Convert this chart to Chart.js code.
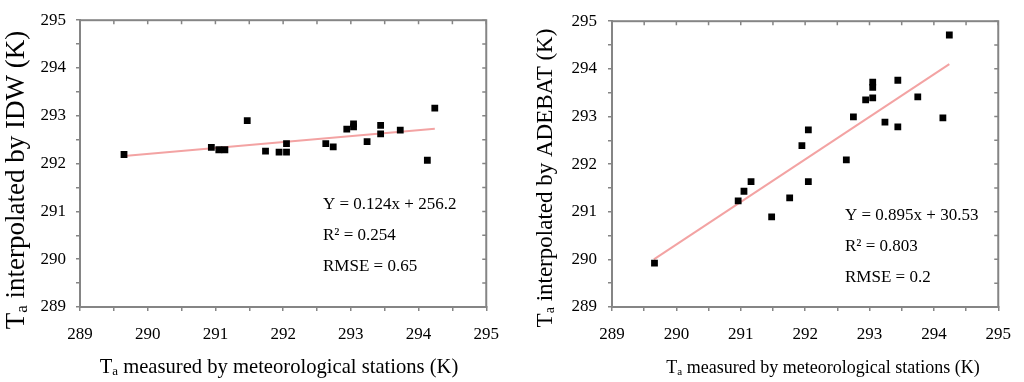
<!DOCTYPE html>
<html>
<head>
<meta charset="utf-8">
<script src="https://cdn.jsdelivr.net/npm/chart.js@4.4.1/dist/chart.umd.min.js"></script>
<style>
  html, body { margin: 0; padding: 0; background: #fff; }
  #wrap { position: relative; width: 1024px; height: 382px; }
  .box { position: absolute; top: 0; width: 512px; height: 382px; }
</style>
</head>
<body>
<div id="wrap">
  <div class="box" style="left:0"><canvas id="idw"></canvas></div>
  <div class="box" style="left:512px"><canvas id="adebat"></canvas></div>
</div>
<script>
// axis range, shared by both panels
const axisMin = 289;
const axisMax = 295;

// IDW panel
const idwMeasured = [289.65, 290.94, 291.05, 291.14, 291.47, 291.74, 291.94, 292.05, 292.05, 292.63,
  292.74, 292.94, 293.04, 293.04, 293.24, 293.44, 293.44, 293.73, 294.13, 294.24];
const idwInterp = [292.19, 292.34, 292.29, 292.29, 292.90, 292.26, 292.24, 292.24, 292.42, 292.42,
  292.35, 292.72, 292.83, 292.77, 292.46, 292.80, 292.62, 292.70, 292.07, 293.16];
const idwFitX = [289.65, 294.24];
const idwFitY = [292.16, 292.73];
const idwStats = ['Y = 0.124x + 256.2', 'R² = 0.254', 'RMSE = 0.65'];
const idwYTitle = ' interpolated by IDW (K)';

// ADEBAT panel
const adeMeasured = [289.66, 290.96, 291.05, 291.16, 291.48, 291.76, 291.95, 292.05, 292.05, 292.64,
  292.75, 292.94, 293.05, 293.05, 293.05, 293.24, 293.44, 293.44, 293.75, 294.14, 294.24];
const adeInterp = [289.92, 291.23, 291.43, 291.63, 290.89, 291.29, 292.39, 292.72, 291.63, 292.09,
  292.99, 293.35, 293.39, 293.72, 293.61, 292.88, 293.76, 292.78, 293.41, 292.97, 294.71];
const adeFitX = [289.65, 294.24];
const adeFitY = [290.0, 294.1];
const adeStats = ['Y = 0.895x + 30.53', 'R² = 0.803', 'RMSE = 0.2'];
const adeYTitle = ' interpolated by ADEBAT (K)';

const xTitle = ' measured by meteorological stations (K)';

const GREY = '#858585';
const SERIF = '"Liberation Serif", "Times New Roman", serif';

function drawTa(ctx, rest, size, cx, cy, angle) {
  ctx.save();
  ctx.translate(cx, cy);
  ctx.rotate(angle);
  ctx.fillStyle = '#000';
  ctx.textBaseline = 'alphabetic';
  ctx.textAlign = 'left';
  const big = size + 'px ' + SERIF;
  const small = Math.round(size * 0.62) + 'px ' + SERIF;
  ctx.font = big;
  const wT = ctx.measureText('T').width;
  const wR = ctx.measureText(rest).width;
  ctx.font = small;
  const wa = ctx.measureText('a').width;
  let x = -(wT + wa + wR) / 2;
  ctx.font = big; ctx.fillText('T', x, 0); x += wT;
  ctx.font = small; ctx.fillText('a', x, size * 0.1); x += wa;
  ctx.font = big; ctx.fillText(rest, x, 0);
  ctx.restore();
}

// box round the plot, inward ticks on top and right, titles and stats text
const decor = {
  id: 'decor',
  beforeDatasetsDraw(chart, args, o) {
    const { ctx, chartArea: a, scales } = chart;
    ctx.save();
    ctx.strokeStyle = GREY;
    ctx.lineWidth = 2;
    ctx.strokeRect(a.left, a.top, a.right - a.left, a.bottom - a.top);
    ctx.lineWidth = 1.5;
    ctx.beginPath();
    scales.x.ticks.forEach(t => {
      const px = scales.x.getPixelForValue(t.value);
      ctx.moveTo(px, a.top); ctx.lineTo(px, a.top + 4);
    });
    scales.y.ticks.forEach(t => {
      const py = scales.y.getPixelForValue(t.value);
      ctx.moveTo(a.right, py); ctx.lineTo(a.right - 4, py);
    });
    ctx.stroke();
    ctx.restore();
  },
  afterDraw(chart, args, o) {
    const { ctx } = chart;
    drawTa(ctx, xTitle, o.xSize, o.xTitleX, o.xTitleY, 0);
    drawTa(ctx, o.yTitle, o.ySize, o.yTitleX, o.yTitleY, -Math.PI / 2);
    ctx.save();
    ctx.fillStyle = '#000';
    ctx.font = '17px ' + SERIF;
    ctx.textAlign = 'left';
    ctx.textBaseline = 'alphabetic';
    o.stats.forEach((s, i) => ctx.fillText(s, o.statsX, o.statsY + i * 31));
    ctx.restore();
  }
};

function makeChart(id, xs, ys, fitX, fitY, opts) {
  const points = xs.map((x, i) => ({ x: x, y: ys[i] }));
  const fit = fitX.map((x, i) => ({ x: x, y: fitY[i] }));
  const tickFont = { family: SERIF, size: 17 };
  const scaleBase = {
    type: 'linear',
    min: axisMin,
    max: axisMax,
    border: { color: GREY, width: 2 },
    grid: { display: true, drawOnChartArea: false, drawTicks: true, tickLength: 4, color: GREY, lineWidth: 1.5 },
    ticks: {
      stepSize: 0.5,
      color: '#000',
      font: tickFont,
      autoSkip: false,
      maxRotation: 0,
      callback: v => (Number.isInteger(v) ? String(v) : '')
    }
  };
  return new Chart(document.getElementById(id), {
    type: 'scatter',
    data: {
      datasets: [
        {
          data: points,
          pointStyle: 'rect',
          pointRadius: 4.8,
          backgroundColor: '#000',
          borderColor: '#000',
          borderWidth: 0
        },
        {
          type: 'line',
          data: fit,
          showLine: true,
          pointRadius: 0,
          borderColor: '#f3a3a3',
          borderWidth: 2
        }
      ]
    },
    options: {
      responsive: true,
      maintainAspectRatio: false,
      animation: false,
      layout: { padding: { top: opts.padTop, right: opts.padRight, left: 0, bottom: 0 } },
      plugins: { legend: { display: false }, tooltip: { enabled: false }, decor: opts.decor },
      scales: {
        x: Object.assign({}, scaleBase, {
          position: 'bottom',
          ticks: Object.assign({}, scaleBase.ticks, { padding: 13 }),
          afterFit: s => { s.height = 75; }
        }),
        y: Object.assign({}, scaleBase, {
          position: 'left',
          ticks: Object.assign({}, scaleBase.ticks, { padding: opts.yPad }),
          afterFit: s => { s.width = opts.yWidth; }
        })
      }
    },
    plugins: [decor]
  });
}

Chart.defaults.font.family = SERIF;

makeChart('idw', idwMeasured, idwInterp, idwFitX, idwFitY, {
  padTop: 11, padRight: 24, yWidth: 80, yPad: 10,
  decor: {
    stats: idwStats, statsX: 323, statsY: 209,
    xSize: 20.6, xTitleX: 279, xTitleY: 373,
    yTitle: idwYTitle, ySize: 27, yTitleX: 24, yTitleY: 180
  }
});

makeChart('adebat', adeMeasured, adeInterp, adeFitX, adeFitY, {
  padTop: 16, padRight: 14, yWidth: 100, yPad: 11,
  decor: {
    stats: adeStats, statsX: 333, statsY: 220,
    xSize: 18, xTitleX: 311, xTitleY: 373,
    yTitle: adeYTitle, ySize: 23, yTitleX: 40, yTitleY: 178
  }
});
</script>
</body>
</html>
